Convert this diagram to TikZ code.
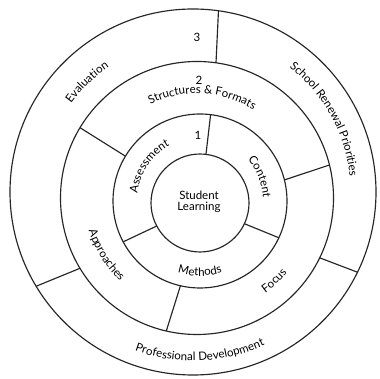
\documentclass[tikz,border=0pt]{standalone}
\usepackage{fontspec}
\setmainfont{Lato}
\usetikzlibrary{calc,decorations.text}
\begin{document}
\fontsize{11.5pt}{13.5pt}\selectfont
\begin{tikzpicture}[x=1pt,y=1pt,
  ring/.style={line width=1.15pt, draw=black!85},
  divider/.style={line width=1.15pt, draw=black!85},
  arclabel/.style={decorate, decoration={text along path, text align=center, text={#1}}},
  numlabel/.style={font=\fontsize{11.5pt}{13pt}\selectfont}]
\useasboundingbox[fill=white] (0,0) rectangle (380,379);

% centres of the four circles
\coordinate (C0) at (200,176);
\coordinate (C1) at (200,178);
\coordinate (C2) at (197,181);
\coordinate (C3) at (193,187);

% circles
\draw[ring] (C3) circle[radius=183pt];
\draw[ring] (C2) circle[radius=136.5pt];
\draw[ring] (C1) circle[radius=87pt];
\draw[ring] (C0) circle[radius=49pt];

% dividers of ring 1
\coordinate (a1i) at ($(C0)+(83:49pt)$);   \coordinate (a1o) at ($(C1)+(83:87pt)$);
\coordinate (b1i) at ($(C0)+(-25:49pt)$);  \coordinate (b1o) at ($(C1)+(-25:87pt)$);
\coordinate (c1i) at ($(C0)+(208:49pt)$);  \coordinate (c1o) at ($(C1)+(208:87pt)$);
\draw[divider] (a1i) -- (a1o);
\draw[divider] (b1i) -- (b1o);
\draw[divider] (c1i) -- (c1o);

% dividers of ring 2
\coordinate (a2i) at ($(C1)+(149:87pt)$);  \coordinate (a2o) at ($(C2)+(149:136.5pt)$);
\coordinate (b2i) at ($(C1)+(14:87pt)$);   \coordinate (b2o) at ($(C2)+(14:136.5pt)$);
\coordinate (c2i) at ($(C1)+(257:87pt)$);  \coordinate (c2o) at ($(C2)+(257:136.5pt)$);
\draw[divider] (a2i) -- (a2o);
\draw[divider] (b2i) -- (b2o);
\draw[divider] (c2i) -- (c2o);

% dividers of ring 3
\coordinate (a3i) at ($(C2)+(82:136.5pt)$);  \coordinate (a3o) at ($(C3)+(82:183pt)$);
\coordinate (b3i) at ($(C2)+(-26:136.5pt)$); \coordinate (b3o) at ($(C3)+(-26:183pt)$);
\coordinate (c3i) at ($(C2)+(211:136.5pt)$); \coordinate (c3o) at ($(C3)+(211:183pt)$);
\draw[divider] (a3i) -- (a3o);
\draw[divider] (b3i) -- (b3o);
\draw[divider] (c3i) -- (c3o);

% centre
\node[align=center, inner sep=0pt] (core) at (199,177) {Student\\[-2pt]Learning};

% ring numbers
\node[numlabel] (n3) at (197,342) {3};
\node[numlabel] (n2) at (199,299) {2};
\node[numlabel] (n1) at (198,244) {1};

% ring 1 labels
\path[arclabel={Assessment}] ($(C1)+(190:63pt)$) arc[start angle=190, end angle=102, radius=63pt];
\path[arclabel={Content}] ($(C1)+(66:63pt)$) arc[start angle=66, end angle=-22, radius=63pt];
\path[arclabel={Methods}] ($(C1)+(-135:75pt)$) arc[start angle=-135, end angle=-45, radius=75pt];

% ring 2 labels
\path[arclabel={Structures {\&} Formats}] ($(C2)+(127:104.5pt)$) arc[start angle=127, end angle=47, radius=104.5pt];
\path[arclabel={Approaches}] ($(C2)+(172:113pt)$) arc[start angle=172, end angle=252, radius=113pt];
\path[arclabel={Focus}] ($(C2)+(-77:117pt)$) arc[start angle=-77, end angle=-17, radius=117pt];

% ring 3 labels
\path[arclabel={Evaluation}] ($(C3)+(170:150.5pt)$) arc[start angle=170, end angle=98, radius=150.5pt];
\path[arclabel={School Renewal Priorities}] ($(C3)+(70:157.5pt)$) arc[start angle=70, end angle=-12, radius=157.5pt];
\path[arclabel={Professional Development}] ($(C3)+(227.5:169pt)$) arc[start angle=227.5, end angle=317.5, radius=169pt];
\end{tikzpicture}
\end{document}
